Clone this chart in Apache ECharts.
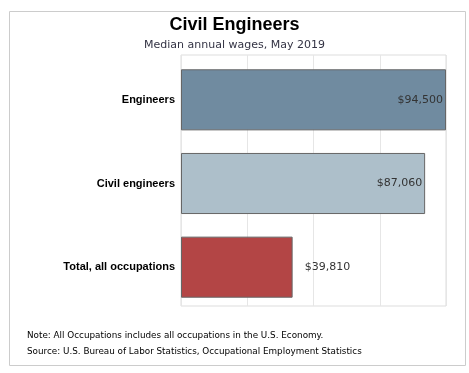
<!DOCTYPE html>
<html><head><meta charset="utf-8">
<script src="https://cdn.jsdelivr.net/npm/echarts@6/dist/echarts.min.js"></script>
<style>html,body{margin:0;padding:0;background:#fff}#c{width:469px;height:373px}</style>
</head><body><div id="c"></div>
<script>
const categories = ['Engineers', 'Civil engineers', 'Total, all occupations'];
const wages = [94500, 87060, 39810];
const barColors = ['#708ba0', '#adbfca', '#b34545'];
const titleText = 'Civil Engineers';
const subtitleText = 'Median annual wages, May 2019';
const noteLines = ['Note: All Occupations includes all occupations in the U.S. Economy.',
  'Source: U.S. Bureau of Labor Statistics, Occupational Employment Statistics'];

const chart = echarts.init(document.getElementById('c'), null, {renderer: 'canvas'});
const fmt = v => '$' + v.toLocaleString('en-US');
const hiddenAxis = {axisLabel: {show: false}, axisLine: {show: false}, axisTick: {show: false}};
chart.setOption({
  animation: false,
  title: {
    text: titleText, subtext: subtitleText, left: 'center', top: 11, itemGap: 6,
    textStyle: {fontFamily: 'Liberation Sans', fontWeight: 'bold', fontSize: 18, color: '#000'},
    subtextStyle: {fontFamily: 'DejaVu Sans', fontSize: 11, color: '#333344'}
  },
  grid: [
    {left: 181, right: 23, top: 55, bottom: 67, show: true, borderColor: '#dddddd', borderWidth: 1},
    {left: 181, right: 23, top: 58, bottom: 64}
  ],
  xAxis: [
    Object.assign({type: 'value', gridIndex: 0, min: 0, max: 94500, interval: 23625,
      splitLine: {lineStyle: {color: '#e6e6e6'}}}, hiddenAxis),
    Object.assign({type: 'value', gridIndex: 1, min: 0, max: 94500, interval: 23625,
      splitLine: {show: false}}, hiddenAxis)
  ],
  yAxis: [
    Object.assign({type: 'category', gridIndex: 0, data: categories, inverse: true, splitLine: {show: false}}, hiddenAxis),
    {
      type: 'category', gridIndex: 1, data: categories, inverse: true,
      axisLine: {show: false}, axisTick: {show: false}, splitLine: {show: false},
      axisLabel: {fontFamily: 'Liberation Sans', fontWeight: 'bold', fontSize: 11, color: '#000', margin: 6}
    }
  ],
  series: [{
    type: 'bar', xAxisIndex: 1, yAxisIndex: 1, barWidth: '73%',
    data: wages.map((v, i) => ({
      value: v,
      itemStyle: {color: barColors[i], borderColor: '#666666', borderWidth: 1},
      label: i < 2 ? {position: 'insideRight', distance: 3} : {position: 'right', distance: 12}
    })),
    label: {show: true, formatter: p => fmt(p.value), fontFamily: 'DejaVu Sans', fontSize: 11, color: '#333'}
  }],
  graphic: [
    {type: 'rect', left: 7, top: 9, shape: {width: 456, height: 354}, style: {fill: 'none', stroke: '#cccccc', lineWidth: 1}, silent: true},
    {type: 'text', left: 27, top: 331, style: {text: noteLines[0], font: '8.8px "DejaVu Sans"', fill: '#000'}},
    {type: 'text', left: 27, top: 347, style: {text: noteLines[1], font: '8.8px "DejaVu Sans"', fill: '#000'}}
  ]
});
</script></body></html>
